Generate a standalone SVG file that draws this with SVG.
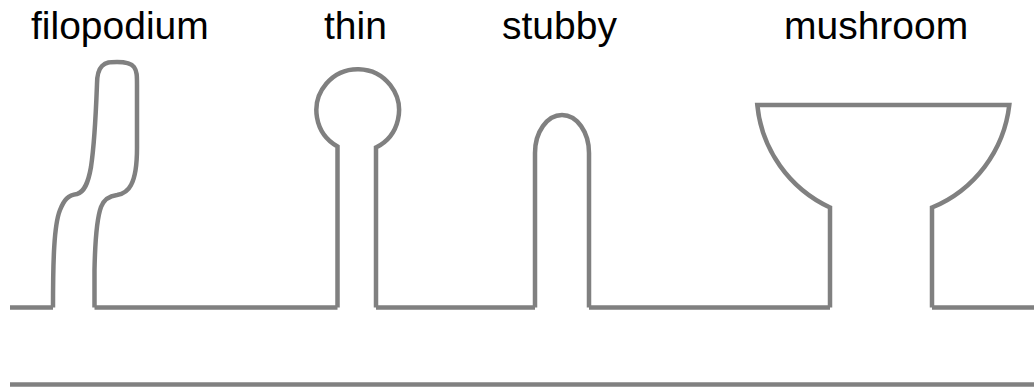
<svg xmlns="http://www.w3.org/2000/svg" width="1034" height="388" viewBox="0 0 1034 388">
  <style>
    .label { font-family: "Liberation Sans", Arial, sans-serif; font-size: 39px; fill: #000; }
    .outline { fill: none; stroke: #808080; stroke-width: 4.5; stroke-linejoin: miter; stroke-linecap: butt; }
  </style>
  <rect width="1034" height="388" fill="#fff"/>

  <!-- membrane surface between the spines -->
  <g id="connectors">
    <path class="outline" d="M10 307.5 H53 M94.5 307.5 H337.5 M376 307.5 H535 M589 307.5 H830 M932 307.5 H1034"/>
    <path class="outline" d="M10 384.5 H1034"/>
  </g>

  <g id="filopodium">
    <text class="label" x="31" y="39">filopodium</text>
    <path class="outline" d="M53 307.5 C53 260 54 225 60 210 C64 200 68 195 77 194 C84 192 88 184 91 167 C95 140 96 110 97 84 C97 76 98 70 102 66 C106 62 110 62 117 62 C126 62 131 63 134 67 C137 71 137 76 137 85 V148 C137 162 136 176 131 185 C128 191 123 194 117 195 C109 196 104 199 101 207 C97 218 95 245 94.5 270 V307.5"/>
  </g>

  <g id="thin">
    <text class="label" x="324" y="39">thin</text>
    <path class="outline" d="M337.5 307.5 V146.5 A41.3 41.3 0 1 1 376 147.5 V307.5"/>
  </g>

  <g id="stubby">
    <text class="label" x="502" y="39">stubby</text>
    <path class="outline" d="M535 307.5 V153 A27 38 0 0 1 589 153 V307.5"/>
  </g>

  <g id="mushroom">
    <text class="label" x="784" y="39">mushroom</text>
    <path class="outline" d="M830 307.5 V207.5 A126.6 126.6 0 0 1 757.3 105 H1009.3 A126.6 126.6 0 0 1 932 207.5 V307.5"/>
  </g>
</svg>
